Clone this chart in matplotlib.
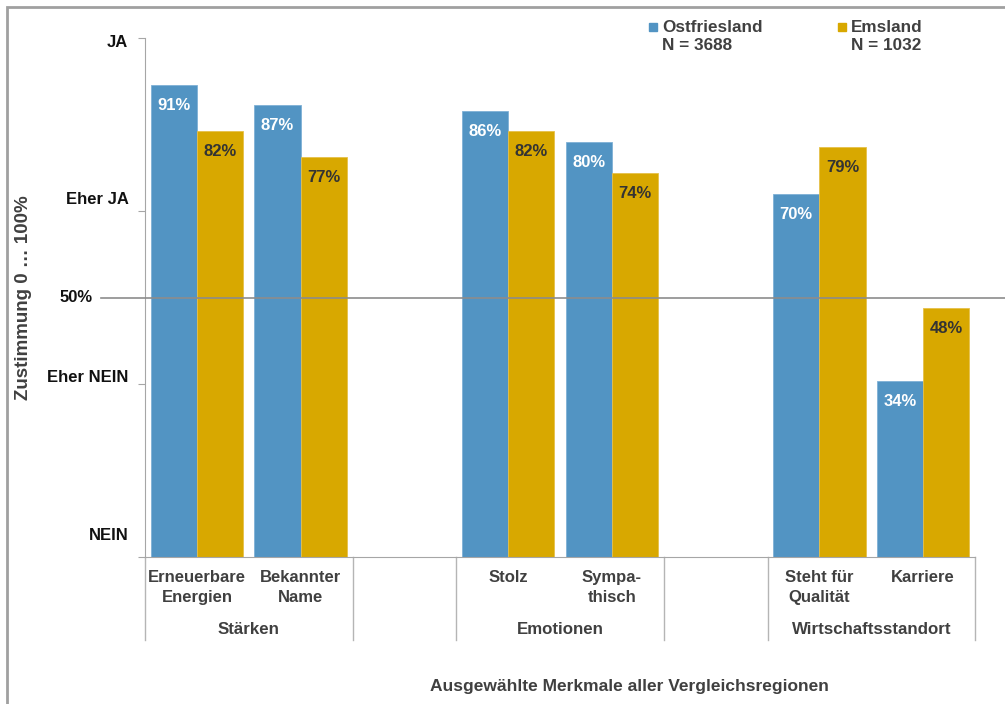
import numpy as np
import matplotlib.pyplot as plt
from matplotlib.patches import Rectangle
import matplotlib.transforms as mtransforms

plt.rcParams['font.family'] = ['Liberation Sans', 'DejaVu Sans']
plt.rcParams['font.weight'] = 'bold'

categories = ['Erneuerbare\nEnergien', 'Bekannter\nName', '', 'Stolz', 'Sympa-\nthisch',
              '', 'Steht für\nQualität', 'Karriere']
ostfriesland = [91, 87, None, 86, 80, None, 70, 34]
emsland = [82, 77, None, 82, 74, None, 79, 48]
groups = ['Stärken', 'Emotionen', 'Wirtschaftsstandort']
group_span = [(0, 1), (3, 4), (6, 7)]
ytick_text = ['NEIN', 'Eher NEIN', '50%', 'Eher JA', 'JA']

blue = '#5294c3'
gold = '#d8a800'
grey_text = '#404040'

fig = plt.figure(figsize=(10.05, 7.04), dpi=100)
ax = fig.add_axes([145 / 1005, 1 - 557 / 704, 830 / 1005, 519 / 704])

x = np.arange(len(categories))
w = 0.445
for i in range(len(categories)):
    if ostfriesland[i] is None:
        continue
    ax.bar(x[i] - w / 2, ostfriesland[i], w, color=blue, edgecolor='#7fb1d6', linewidth=0.6)
    ax.bar(x[i] + w / 2, emsland[i], w, color=gold, edgecolor='#e6c04a', linewidth=0.6)
    ax.text(x[i] - w / 2, ostfriesland[i] - 2.5, f'{ostfriesland[i]}%', ha='center', va='top',
            color='white', fontsize=12, fontweight='bold')
    ax.text(x[i] + w / 2, emsland[i] - 2.5, f'{emsland[i]}%', ha='center', va='top',
            color='#333333', fontsize=12, fontweight='bold')

ax.set_xlim(-0.5, len(categories) - 0.5)
ax.set_ylim(0, 100)
for s in ['top', 'right']:
    ax.spines[s].set_visible(False)
ax.spines['left'].set_color('#a6a6a6')
ax.spines['bottom'].set_color('#a6a6a6')
ax.set_xticks([])
ax.set_yticks([0, 100 / 3, 200 / 3, 100])
ax.set_yticklabels([])
ax.tick_params(axis='y', length=5, color='#a6a6a6')

# 50% line reaching out to the left
ax.plot([-0.92, 8.3], [50, 50], color='#8c8c8c', lw=1.2, clip_on=False, zorder=3)

# y labels (slightly offset like the original)
ypos = {'NEIN': 4.2, 'Eher NEIN': 34.5, '50%': 50, 'Eher JA': 68.8, 'JA': 99.2}
xpos = {'NEIN': -0.66, 'Eher NEIN': -0.66, '50%': -1.0, 'Eher JA': -0.66, 'JA': -0.66}
for t in ytick_text:
    ax.text(xpos[t], ypos[t], t, ha='right', va='center', fontsize=12, fontweight='bold',
            color='#111111', clip_on=False)
ax.text(-1.67, 50, 'Zustimmung 0 … 100%', rotation=90, ha='center', va='center',
        fontsize=13.5, fontweight='bold', color=grey_text)

trans = mtransforms.blended_transform_factory(ax.transData, ax.transAxes)
for i, c in enumerate(categories):
    if c:
        ax.text(x[i], -0.025, c, transform=trans, ha='center', va='top', fontsize=12,
                fontweight='bold', color=grey_text, linespacing=1.45)
for g, (a, b) in zip(groups, group_span):
    ax.text((a + b) / 2, -0.139, g, transform=trans, ha='center', va='center',
            fontsize=12.2, fontweight='bold', color=grey_text)
for sx in [-0.5, 1.5, 2.5, 4.5, 5.5, 7.5]:
    ax.plot([sx, sx], [0, -0.16], transform=trans, color='#b5b5b5', lw=1, clip_on=False)

fig.text(629 / 1005, 1 - 687 / 704, 'Ausgewählte Merkmale aller Vergleichsregionen',
         ha='center', va='center', fontsize=12.5, fontweight='bold', color=grey_text)

# legend
leg = [('Ostfriesland', 'N = 3688', blue, 649), ('Emsland', 'N = 1032', gold, 838)]
for name, n, col, px in leg:
    fig.patches.append(Rectangle((px / 1005, 1 - 31 / 704), 8 / 1005, 8 / 704,
                                 transform=fig.transFigure, color=col))
    fig.text((px + 13) / 1005, 1 - 27 / 704, name, ha='left', va='center',
             fontsize=12.3, fontweight='bold', color=grey_text)
    fig.text((px + 13) / 1005, 1 - 45 / 704, n, ha='left', va='center',
             fontsize=12.3, fontweight='bold', color=grey_text)

# chart frame (cut off at right and bottom)
fig.patches.append(Rectangle((7 / 1005, -0.1), 1.2, 1 - 7 / 704 + 0.1, transform=fig.transFigure,
                             fill=False, edgecolor='#a0a0a0', lw=2))

fig.savefig('out.png', dpi=100)
